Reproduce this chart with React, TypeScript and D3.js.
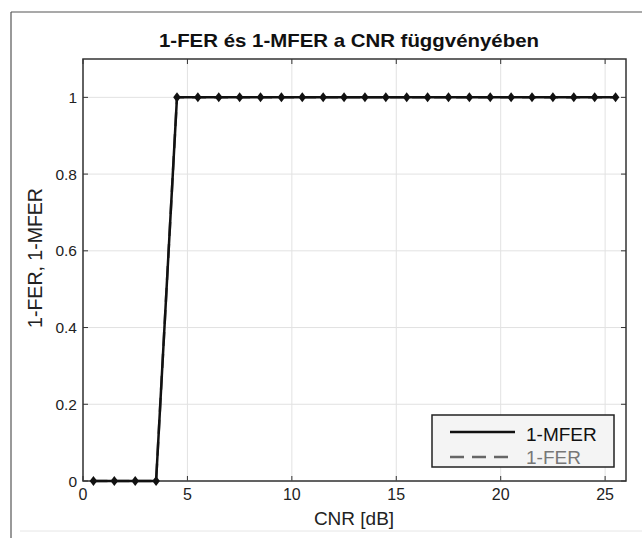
import React from "react";
import * as d3 from "d3";

const cnr: number[] = [0.5, 1.5, 2.5, 3.5, 4.5, 5.5, 6.5, 7.5, 8.5, 9.5, 10.5, 11.5, 12.5, 13.5, 14.5, 15.5, 16.5, 17.5, 18.5, 19.5, 20.5, 21.5, 22.5, 23.5, 24.5, 25.5];
const mfer: number[] = [0, 0, 0, 0, 1, 1, 1, 1, 1, 1, 1, 1, 1, 1, 1, 1, 1, 1, 1, 1, 1, 1, 1, 1, 1, 1];
const fer: number[] = [0, 0, 0, 0, 1, 1, 1, 1, 1, 1, 1, 1, 1, 1, 1, 1, 1, 1, 1, 1, 1, 1, 1, 1, 1, 1];
const xTicks: number[] = [0, 5, 10, 15, 20, 25];
const yTicks: number[] = [0, 0.2, 0.4, 0.6, 0.8, 1];
const seriesNames: string[] = ["1-MFER", "1-FER"];

export default function App() {
  const W = 642, H = 538;
  const L = 83, R = 626, T = 59, B = 481;
  const x = d3.scaleLinear().domain([0, 26]).range([L, R]);
  const y = d3.scaleLinear().domain([0, 1.1]).range([B, T]);
  const line = d3.line<number>().x((_, i) => x(cnr[i])).y((d) => y(d));
  const font = "Liberation Sans, Arial, sans-serif";
  const diamond = (cx: number, cy: number) =>
    `M${cx},${cy - 5}L${cx + 3.8},${cy}L${cx},${cy + 5}L${cx - 3.8},${cy}Z`;
  return (
    <svg width={W} height={H} style={{ position: "absolute", left: 0, top: 0, background: "#fff" }}>
      <line x1={11} y1={12} x2={642} y2={12} stroke="#555" strokeWidth={1.2} />
      <line x1={11} y1={12} x2={11} y2={538} stroke="#555" strokeWidth={1.2} />
      <line x1={20} y1={531} x2={642} y2={531} stroke="#e6e6e6" strokeWidth={1} />
      <text x={349} y={47} textAnchor="middle" fontFamily={font} fontWeight="bold" fontSize={18.5} fill="#111" textLength={380} lengthAdjust="spacingAndGlyphs">
        1-FER és 1-MFER a CNR függvényében
      </text>
      {xTicks.map((t) => (
        <g key={"x" + t}>
          <line x1={x(t)} x2={x(t)} y1={T} y2={B} stroke="#e2e2e2" strokeWidth={1} />
          <line x1={x(t)} x2={x(t)} y1={B} y2={B - 5} stroke="#333" strokeWidth={1} />
          <line x1={x(t)} x2={x(t)} y1={T} y2={T + 5} stroke="#333" strokeWidth={1} />
          <text x={x(t)} y={500} textAnchor="middle" fontFamily={font} fontSize={16} fill="#222">
            {t}
          </text>
        </g>
      ))}
      {yTicks.map((t) => (
        <g key={"y" + t}>
          <line x1={L} x2={R} y1={y(t)} y2={y(t)} stroke="#e2e2e2" strokeWidth={1} />
          <line x1={L} x2={L + 5} y1={y(t)} y2={y(t)} stroke="#333" strokeWidth={1} />
          <line x1={R} x2={R - 5} y1={y(t)} y2={y(t)} stroke="#333" strokeWidth={1} />
          <text x={77} y={y(t) + 5.5} textAnchor="end" fontFamily={font} fontSize={15.5} fill="#222">
            {String(t)}
          </text>
        </g>
      ))}
      <rect x={L} y={T} width={R - L} height={B - T} fill="none" stroke="#333" strokeWidth={1.5} />
      <path d={line(fer) || ""} fill="none" stroke="#666" strokeWidth={2.5} strokeDasharray="14,8" />
      <path d={line(mfer) || ""} fill="none" stroke="#111" strokeWidth={2.5} />
      {mfer.map((v, i) => (
        <path key={"m" + i} d={diamond(x(cnr[i]), y(v))} fill="#111" />
      ))}
      <text x={354} y={525} textAnchor="middle" fontFamily={font} fontSize={19} fill="#222">
        CNR [dB]
      </text>
      <text transform={`translate(42,258) rotate(-90)`} textAnchor="middle" fontFamily={font} fontSize={19.5} fill="#222">
        1-FER, 1-MFER
      </text>
      <rect x={432} y={415} width={182} height={52} fill="#f4f4f4" stroke="#222" strokeWidth={1.5} />
      <line x1={450} x2={515} y1={432} y2={432} stroke="#111" strokeWidth={2.5} />
      <line x1={450} x2={515} y1={457} y2={457} stroke="#666" strokeWidth={2.5} strokeDasharray="14,8" />
      <text x={526} y={441} fontFamily={font} fontSize={19} fill="#111">{seriesNames[0]}</text>
      <text x={526} y={464} fontFamily={font} fontSize={19} fill="#777">{seriesNames[1]}</text>
    </svg>
  );
}
